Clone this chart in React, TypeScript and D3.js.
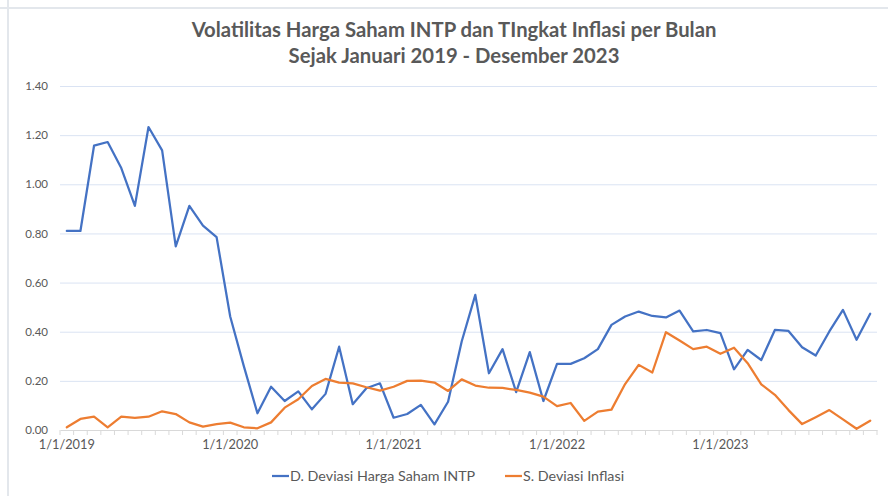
import { useEffect, useRef } from 'react';
import * as d3 from "d3";

// bulan Jan 2019 - Des 2023
const months: Date[] = d3.timeMonth.range(new Date(2019, 0, 1), new Date(2024, 0, 1));

const sahamINTP: number[] = [
    0.81, 0.81, 1.157, 1.172, 1.066, 0.912, 1.233, 1.138, 0.747, 0.912, 0.832, 0.785,
    0.462, 0.26, 0.068, 0.176, 0.118, 0.157, 0.084, 0.147, 0.339, 0.105, 0.170, 0.190,
    0.050, 0.065, 0.102, 0.023, 0.115, 0.360, 0.550, 0.231, 0.329, 0.154, 0.317, 0.118,
    0.269, 0.269, 0.292, 0.329, 0.428, 0.462, 0.482, 0.464, 0.458, 0.486, 0.401, 0.407,
    0.394, 0.247, 0.326, 0.285, 0.407, 0.403, 0.337, 0.303, 0.401, 0.489, 0.367, 0.473,
];

const inflasi: number[] = [
    0.011, 0.045, 0.054, 0.011, 0.054, 0.049, 0.054, 0.076, 0.065, 0.031, 0.014, 0.024,
    0.030, 0.011, 0.007, 0.031, 0.091, 0.125, 0.179, 0.208, 0.193, 0.190, 0.174, 0.160,
    0.176, 0.200, 0.201, 0.193, 0.159, 0.206, 0.181, 0.172, 0.171, 0.163, 0.152, 0.136,
    0.097, 0.110, 0.037, 0.075, 0.083, 0.187, 0.265, 0.234, 0.398, 0.364, 0.329, 0.339,
    0.310, 0.335, 0.272, 0.186, 0.143, 0.081, 0.024, 0.052, 0.081, 0.043, 0.005, 0.038,
];

const yTicks: number[] = [0, 0.2, 0.4, 0.6, 0.8, 1.0, 1.2, 1.4];
const xTickLabels: string[] = ["1/1/2019", "1/1/2020", "1/1/2021", "1/1/2022", "1/1/2023"];
const seriesNames: string[] = ["D. Deviasi Harga Saham INTP", "S. Deviasi Inflasi"];
const titleLines: string[] = [
    "Volatilitas Harga Saham INTP dan TIngkat Inflasi per Bulan",
    "Sejak Januari 2019 - Desember 2023",
];

const App = () => {
    const ref = useRef<SVGSVGElement | null>(null);

    useEffect(() => {
        if (!ref.current) return;
        const width = 888;
        const height = 496;
        const margin = { top: 86, right: 11, bottom: 66, left: 60 };
        const innerWidth = width - margin.left - margin.right;
        const innerHeight = height - margin.top - margin.bottom;
        const font = "Lato, 'Open Sans', sans-serif";
        const textColor = "#595959";

        const svg = d3.select(ref.current)
            .attr("width", width)
            .attr("height", height);
        svg.selectAll("*").remove();

        svg.append("rect").attr("width", width).attr("height", height).attr("fill", "white");

        // border kiri & atas
        svg.append("line").attr("x1", 0).attr("x2", width).attr("y1", 8).attr("y2", 8)
            .attr("stroke", "#e3e7ec").attr("stroke-width", 2);
        svg.append("line").attr("x1", 8).attr("x2", 8).attr("y1", 0).attr("y2", height)
            .attr("stroke", "#e3e7ec").attr("stroke-width", 2);

        // judul
        svg.append("text")
            .attr("x", 454)
            .attr("text-anchor", "middle")
            .attr("font-family", font)
            .attr("font-weight", "bold")
            .attr("font-size", "20.3px")
            .attr("fill", textColor)
            .selectAll("tspan")
            .data(titleLines)
            .enter()
            .append("tspan")
            .attr("x", 454)
            .attr("y", (_, i) => 37 + i * 26)
            .text(d => d);

        const x = d3.scaleBand<Date>()
            .domain(months)
            .range([0, innerWidth])
            .paddingInner(0)
            .paddingOuter(0);
        const y = d3.scaleLinear()
            .domain([0, 1.4])
            .range([innerHeight, 0]);
        const cx = (d: Date) => (x(d) || 0) + x.bandwidth() / 2;

        const g = svg.append("g").attr("transform", `translate(${margin.left}, ${margin.top})`);

        // sumbu Y + gridline
        const yAxis = g.append("g")
            .call(d3.axisLeft(y).tickValues(yTicks).tickSize(-innerWidth).tickPadding(12)
                .tickFormat(d => d3.format(".2f")(d as number)));
        yAxis.select(".domain").remove();
        yAxis.selectAll(".tick line")
            .attr("stroke", (d: any) => d === 0 ? "none" : "#dae3f3")
            .attr("stroke-width", 1);
        yAxis.selectAll(".tick text")
            .attr("font-family", font)
            .attr("font-size", "11.5px")
            .attr("fill", textColor);

        // sumbu X
        const yearStarts = months.filter(m => m.getMonth() === 0);
        const xAxis = g.append("g")
            .attr("transform", `translate(0, ${innerHeight})`)
            .call(d3.axisBottom(x).tickValues(yearStarts).tickSize(0).tickPadding(10)
                .tickFormat((_, i) => xTickLabels[i]));
        xAxis.select(".domain").attr("stroke", "#d9d9d9");
        xAxis.selectAll(".tick text")
            .attr("font-family", font)
            .attr("font-size", "12.8px")
            .attr("fill", textColor);

        // tick kecil tiap bulan
        g.append("g")
            .selectAll("line")
            .data([...months.map(m => x(m) || 0), innerWidth])
            .enter()
            .append("line")
            .attr("x1", d => d).attr("x2", d => d)
            .attr("y1", innerHeight).attr("y2", innerHeight + 5)
            .attr("stroke", "#d9d9d9");

        const line = d3.line<number>()
            .x((_, i) => cx(months[i]))
            .y(d => y(d));

        const colors = ["#4472C4", "#ED7D31"];
        [sahamINTP, inflasi].forEach((s, i) => {
            g.append("path")
                .datum(s)
                .attr("fill", "none")
                .attr("stroke", colors[i])
                .attr("stroke-width", 2.25)
                .attr("stroke-linejoin", "round")
                .attr("stroke-linecap", "round")
                .attr("d", line);
        });

        // legenda
        const legendX = [272, 505];
        const legend = svg.append("g");
        seriesNames.forEach((name, i) => {
            legend.append("line")
                .attr("x1", legendX[i]).attr("x2", legendX[i] + 17)
                .attr("y1", 476).attr("y2", 476)
                .attr("stroke", colors[i])
                .attr("stroke-width", 2.25);
            legend.append("text")
                .attr("x", legendX[i] + 18)
                .attr("y", 481)
                .attr("font-family", font)
                .attr("font-size", "14.3px")
                .attr("fill", textColor)
                .text(name);
        });
    }, []);

    return (
        <div style={{ position: "absolute", left: 0, top: 0 }}>
            <svg ref={ref} style={{ display: "block" }}></svg>
        </div>
    );
}

export default App;
